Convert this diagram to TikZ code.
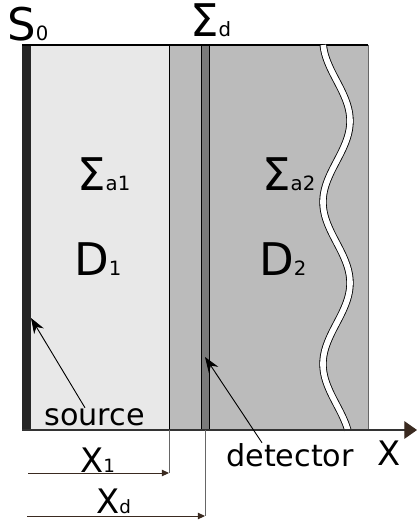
\documentclass[tikz,border=0pt]{standalone}
\usepackage{fontspec}
\setmainfont{DejaVu Sans}
\usetikzlibrary{arrows.meta,calc}
\definecolor{slablight}{HTML}{E8E8E8}
\definecolor{slabgray}{HTML}{BBBBBB}
\definecolor{stripgray}{HTML}{7A7A7A}
\definecolor{tipbrown}{HTML}{3A2A20}
\newcommand{\lowidx}[1]{{\fontsize{14}{14}\selectfont #1}}
\newcommand{\lowidxs}[1]{{\fontsize{13}{13}\selectfont #1}}
\begin{document}
\begin{tikzpicture}[x=0.025cm, y=-0.025cm, line join=round, >=Stealth]
	\tikzset{every node/.style={inner sep=0pt, anchor=base west}}
	\tikzset{biglab/.style={font=\fontsize{32}{32}\selectfont}}
	\tikzset{axlab/.style={font=\fontsize{24}{24}\selectfont}}
	\tikzset{word/.style={font=\fontsize{21.5}{21.5}\selectfont}}
	\tikzset{dimline/.style={tipbrown, line width=0.7pt, -{Triangle[length=5pt,width=4.5pt]}}}
	\tikzset{pointer/.style={line width=0.65pt, -{Stealth[length=11pt,width=8pt]}}}
	\def \ytop{45}
	\def \ybot{430}
	\useasboundingbox (0,0) rectangle (418,522);
	
	\path 
	(31,318) coordinate (srcpt)
	(205,357) coordinate (detpt)
	(28,473) coordinate (xa)
	(169,473) coordinate (xb)
	(27,516) coordinate (da)
	(205,516) coordinate (db)
	(22,\ybot) coordinate (O)
	(417,\ybot) coordinate (E)
	;
	% slabs
	\fill[slablight] (31,\ytop) rectangle (169,\ybot);
	\fill[slabgray] (169,\ytop) rectangle (368,\ybot);
	\fill[stripgray] (201,\ytop) rectangle (209,\ybot);
	\fill[black!85] (22,\ytop) rectangle (31,\ybot);
	\draw[black!60, line width=0.7pt] (368,\ytop) -- (368,\ybot);
	\draw[line width=0.7pt] (169,\ytop) -- (169,\ybot) (201,\ytop) -- (201,\ybot) (209,\ytop) -- (209,\ybot);
	\draw[line width=0.9pt] (22,\ytop) -- (368,\ytop);
	\draw[double=white, double distance=4pt, line width=0.6pt] plot[smooth, samples=80, domain=\ytop:\ybot] ({336.5-13.5*cos(2.2222*(\x-40))},\x);
	
	% axis
	\draw[black!80, line width=0.9pt, -{Triangle[length=9pt,width=12.5pt,color=tipbrown]}] (O) -- (E);
	\draw[black!60, line width=0.7pt] (169,\ybot) -- (xb) (205,\ybot) -- (db);
	\draw[dimline] (xa) -- (xb);
	\draw[dimline] (da) -- (db);
	
	% labels
	\node[biglab] (s0) at (7,40) {S\lowidx{0}};
	\node[biglab] (sd) at (190,36) {Σ\lowidx{d}};
	\node[biglab] (sa1) at (77,190) {Σ\lowidx{a1}};
	\node[biglab] (d1) at (74,275) {D\lowidx{1}};
	\node[biglab] (sa2) at (262,190) {Σ\lowidx{a2}};
	\node[biglab] (d2) at (259,275) {D\lowidx{2}};
	\node[axlab] (xlab) at (377,465) {X};
	\node[axlab] (x1) at (80,472) {X\lowidxs{1}};
	\node[axlab] (xd) at (96,513) {X\lowidxs{d}};
	\node[word] (source) at (44,425) {source};
	\node[word] (detector) at (226,466) {detector};
	
	\draw[pointer] ($(source.north west)+(41,0)$) -- (srcpt);
	\draw[pointer] ($(detector.north west)+(36,0)$) -- (detpt);
\end{tikzpicture}
\end{document}
